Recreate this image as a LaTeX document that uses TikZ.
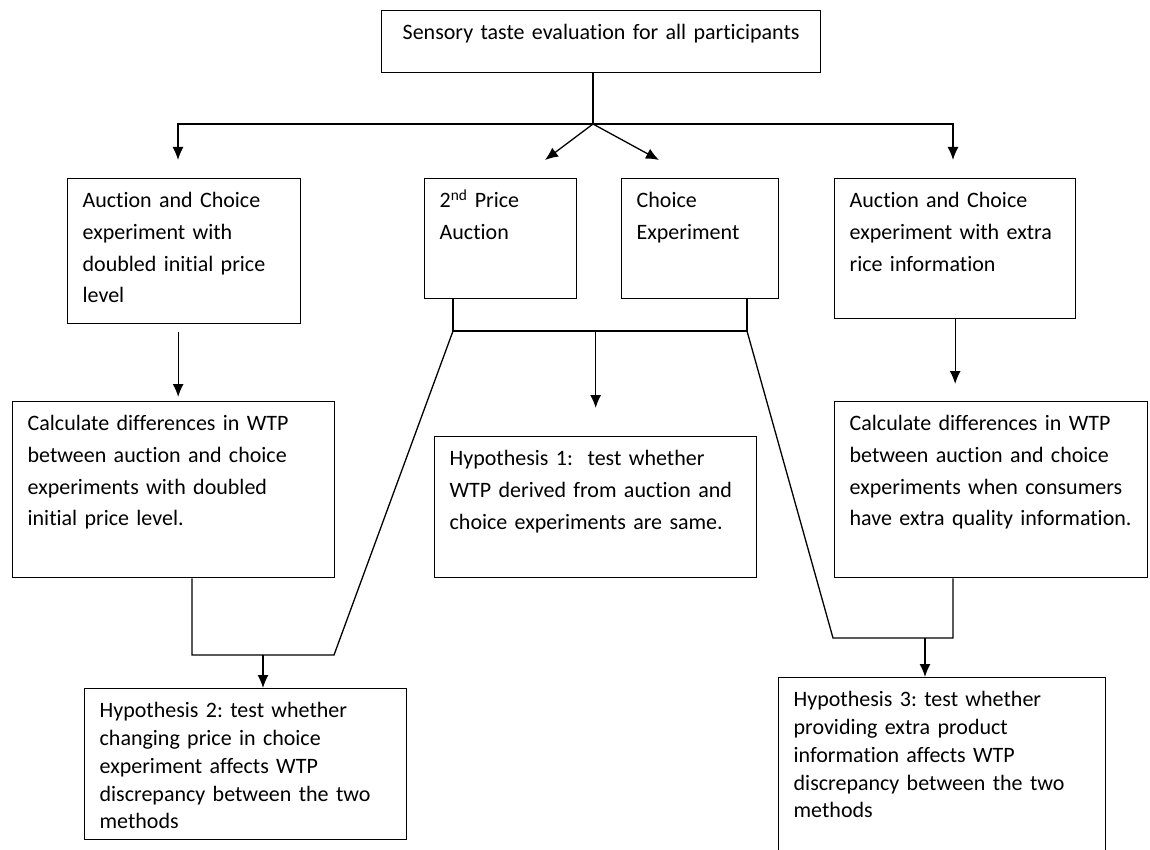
\documentclass[tikz,border=0pt]{standalone}
\usepackage{fontspec}
\setmainfont{Carlito}[Ligatures=NoCommon]
\usetikzlibrary{arrows.meta}
\frenchspacing
\tikzset{
  stage/.style={draw, line width=1.3pt, anchor=north west, align=left,
    inner xsep=15pt, inner ysep=12pt, text height=17pt,
    font=\fontsize{22pt}{31.7pt}\selectfont},
  tight/.style={font=\fontsize{22pt}{27.8pt}\selectfont},
  link/.style={line width=1.3pt},
  arr/.style={link, -{Latex[length=13pt,width=11pt]}}
}
\begin{document}
\begin{tikzpicture}[x=1pt, y=-1pt]
  \path[use as bounding box, fill=white] (0,0) rectangle (1150,850);

  % boxes
  \node (sens) [stage, align=center, text width=409pt, text depth=21pt] at (381,10) {Sensory taste evaluation for all participants};
  \node (doub) [stage, text width=203pt, text depth=104pt] at (67,178) {Auction and Choice\\ experiment with\\ doubled initial price\\ level};
  \node (spa) [stage, text width=122pt, text depth=79pt] at (424,178) {2\textsuperscript{nd} Price\\ Auction};
  \node (ce) [stage, text width=127pt, text depth=79pt] at (621,178) {Choice\\ Experiment};
  \node (extra) [stage, text width=211pt, text depth=99pt] at (834,178) {Auction and Choice\\ experiment with extra\\ rice information};
  \node (calcL) [stage, text width=292pt, text depth=135pt] at (12,401) {Calculate differences in WTP\\ between auction and choice\\ experiments with doubled\\ initial price level.};
  \node (hyp1) [stage, text width=292pt, text depth=100pt] at (434,436) {Hypothesis 1:~ test whether\\ WTP derived from auction and\\ choice experiments are same.};
  \node (calcR) [stage, text width=283pt, text depth=135pt] at (834,401) {Calculate differences in WTP\\ between auction and choice\\ experiments when consumers\\ \mbox{have extra quality information.}};
  \node (hyp2) [stage, tight, text width=292pt, text depth=110pt] at (84,688) {Hypothesis 2: test whether\\ changing price in choice\\ experiment affects WTP\\ discrepancy between the two\\ methods};
  \node (hyp3) [stage, tight, text width=297pt, text depth=159pt] at (778,677) {Hypothesis 3: test whether\\ providing extra product\\ information affects WTP\\ discrepancy between the two\\ methods};

  % split below the first box
  \coordinate (split) at (593,124);
  \coordinate (tipA) at (178,160);
  \coordinate (tipB) at (545,160);
  \coordinate (tipC) at (659,160);
  \coordinate (tipD) at (953,160);
  \draw [link] (sens.south -| split) -- (split);
  \draw [arr] (split) -| (tipA);
  \draw [arr] (split) -| (tipD);
  \draw [arr] (split) -- (tipB);
  \draw [arr] (split) -- (tipC);

  % both methods into hypothesis 1
  \coordinate (brL) at (453,331);
  \coordinate (brR) at (747,331);
  \draw [link] (spa.south -| brL) -- (brL) -- (brR) -- (ce.south -| brR);
  \draw [arr, shorten >=28pt] (brL -| hyp1.north) -- (hyp1.north);

  \draw [arr, shorten <=8pt, shorten >=4pt] ([xshift=-6pt]doub.south) -- ([xshift=-6pt]doub.south |- calcL.north);
  \draw [arr, shorten >=17pt] (extra.south) -- (extra.south |- calcR.north);

  % hypothesis 2
  \coordinate (h2L) at (192,655);
  \coordinate (h2R) at (334,655);
  \coordinate (h2m) at (263,655);
  \draw [link] (calcL.south -| h2L) -- (h2L) -- (h2R) -- (brL);
  \draw [arr] (h2m) -- (h2m |- hyp2.north);

  % hypothesis 3
  \coordinate (h3L) at (833,638);
  \coordinate (h3R) at (953,638);
  \coordinate (h3m) at (925,638);
  \draw [link] (brR) -- (h3L) -- (h3R) -- (calcR.south -| h3R);
  \draw [arr] (h3m) -- (h3m |- hyp3.north);
\end{tikzpicture}
\end{document}
